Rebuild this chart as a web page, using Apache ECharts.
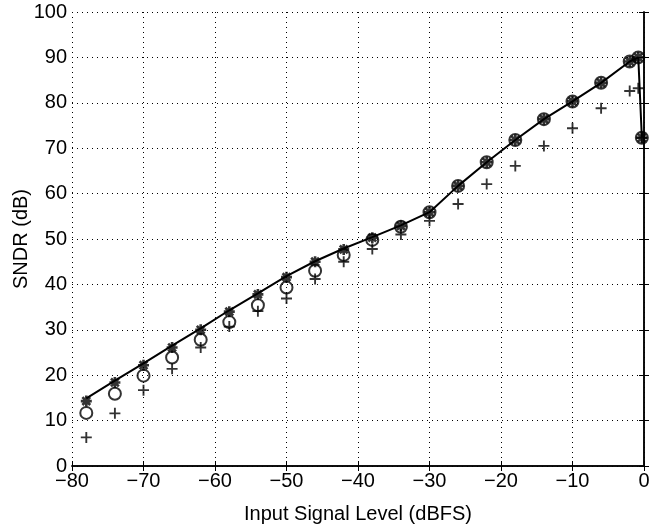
<!DOCTYPE html>
<html>
<head>
<meta charset="utf-8">
<script src="https://cdn.jsdelivr.net/npm/echarts@6/dist/echarts.min.js"></script>
<style>html,body{margin:0;padding:0;background:#fff}#c{width:659px;height:529px}</style>
</head>
<body>
<div id="c"></div>
<script>
const levels = [-78,-74,-70,-66,-62,-58,-54,-50,-46,-42,-38,-34,-30,-26,-22,-18,-14,-10,-6,-2,-0.8,-0.3];
const sndrLine = [14.9,18.8,22.6,26.5,30.3,34.3,38.0,41.8,45.1,47.9,50.4,53.0,55.9,61.7,66.9,71.8,76.4,80.3,84.4,89.1,90.0,72.3];
const sndrStar = [14.3,18.4,22.2,26.1,30.0,34.0,37.8,41.6,45.0,47.7,50.3,52.9,55.9,61.7,66.9,71.8,76.4,80.3,84.4,89.1,90.0,72.3];
const sndrCircle = [11.7,15.9,19.9,23.9,27.8,31.7,35.4,39.3,43.0,46.5,49.8,52.7,55.9,61.7,66.9,71.8,76.4,80.3,84.4,89.1,90.0,72.3];
const sndrPlus = [6.3,11.6,16.7,21.4,26.1,30.7,34.1,36.9,41.2,45.0,47.8,51.0,54.0,57.7,62.1,66.1,70.5,74.4,78.8,82.6,83.2,72.3];

const pair = (ys) => levels.map((x, i) => [x, ys[i]]);
const plusPath = 'path://M-1.7,-10L1.7,-10L1.7,-1.7L10,-1.7L10,1.7L1.7,1.7L1.7,10L-1.7,10L-1.7,1.7L-10,1.7L-10,-1.7L-1.7,-1.7Z';
// asterisk: union of + and x (all subpaths same winding)
const starPath = 'path://M-2.4,-10L2.4,-10L2.4,10L-2.4,10Z M-10,-2.4L10,-2.4L10,2.4L-10,2.4Z M-8.8,-5.4L-5.4,-8.8L8.8,5.4L5.4,8.8Z M5.4,-8.8L8.8,-5.4L-5.4,8.8L-8.8,5.4Z';
const font = '"Liberation Sans", Arial, Helvetica, sans-serif';
const fmt = v => String(v).replace('-', '\u2212');

const chart = echarts.init(document.getElementById('c'), null, {renderer: 'canvas'});
chart.setOption({
  animation: false,
  backgroundColor: '#fff',
  grid: {left: 72, right: 15, top: 12, bottom: 63, containLabel: false, outerBoundsMode: 'none'},
  xAxis: [{
    type: 'value', min: -80, max: 0, interval: 10,
    name: 'Input Signal Level (dBFS)', nameLocation: 'middle', nameGap: 38, nameMoveOverlap: false,
    nameTextStyle: {fontFamily: font, fontSize: 20, color: '#000'},
    axisLine: {lineStyle: {color: '#000', width: 1.5}},
    axisTick: {inside: true, length: 5, lineStyle: {color: '#000'}},
    axisLabel: {fontFamily: font, fontSize: 20, color: '#000', margin: 5, formatter: fmt},
    splitLine: {show: true, lineStyle: {color: '#000', type: [1, 4], width: 1}}
  }, {
    type: 'value', min: -80, max: 0, interval: 10, position: 'top',
    axisLine: {lineStyle: {color: '#000', width: 1.5}},
    axisTick: {inside: true, length: 5, lineStyle: {color: '#000'}},
    axisLabel: {show: false}, splitLine: {show: false}
  }],
  yAxis: [{
    type: 'value', min: 0, max: 100, interval: 10,
    name: 'SNDR (dB)', nameLocation: 'middle', nameGap: 41, nameRotate: 90, nameMoveOverlap: false,
    nameTextStyle: {fontFamily: font, fontSize: 20, color: '#000'},
    axisLine: {show: true, lineStyle: {color: '#000', width: 1.5}},
    axisTick: {show: true, inside: true, length: 5, lineStyle: {color: '#000'}},
    axisLabel: {fontFamily: font, fontSize: 20, color: '#000', margin: 5},
    splitLine: {show: true, lineStyle: {color: '#000', type: [1, 4], width: 1}}
  }, {
    type: 'value', min: 0, max: 100, interval: 10, position: 'right',
    axisLine: {show: true, lineStyle: {color: '#000', width: 1.5}},
    axisTick: {show: true, inside: true, length: 5, lineStyle: {color: '#000'}},
    axisLabel: {show: false}, splitLine: {show: false}
  }],
  series: [
    {type: 'line', data: pair(sndrLine), showSymbol: false, lineStyle: {color: '#000', width: 2}, z: 5},
    {type: 'scatter', data: pair(sndrStar), symbol: starPath, symbolSize: 11, itemStyle: {color: '#000'}, z: 6},
    {type: 'scatter', data: pair(sndrCircle), symbol: 'circle', symbolSize: 12,
      itemStyle: {color: 'rgba(0,0,0,0)', borderColor: '#000', borderWidth: 2}, z: 7},
    {type: 'scatter', data: pair(sndrPlus), symbol: plusPath, symbolSize: 11, itemStyle: {color: '#000'}, z: 6}
  ]
});
</script>
</body>
</html>
